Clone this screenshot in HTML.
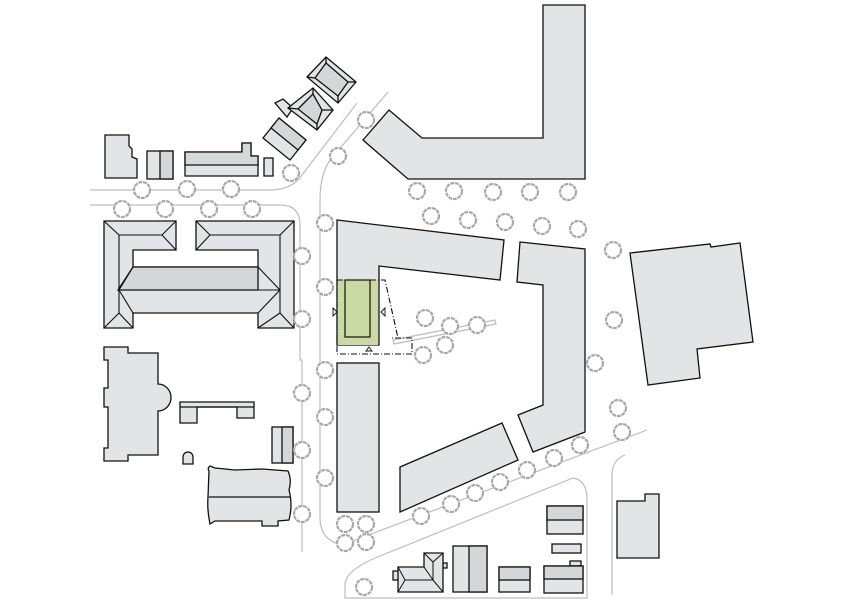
<!DOCTYPE html>
<html><head><meta charset="utf-8"><style>html,body{margin:0;padding:0;background:#fff}svg{display:block}</style></head>
<body>
<svg width="850" height="605" viewBox="0 0 850 605" xmlns="http://www.w3.org/2000/svg">
<g fill="none" stroke="#bdbdbd" stroke-width="1.2">
<path d="M90 190 H270 Q292 190 302 175 L357 103"/>
<path d="M90 205 H280 Q300 205 300 225 V360 H302 V552"/>
<path d="M388 92 L330 160 Q320 175 320 200 V518 Q320 540 342 545 L647 430"/>
<path d="M345 598 H587 V500 Q587 480 573 478 L380 556 Q345 570 345 585 Z"/>
<path d="M612 595 V475 Q612 460 625 455"/>
<path d="M393 340 L495 320 L496 324 L394 344 Z"/>
</g>
<g fill="#e2e4e6" stroke="#111" stroke-width="1.3">
<path d="M543 5 H585 V179 H408 L363 140 L389 110 L422 138 H543 Z"/>
<path d="M337 220 L504 240 L500 280 L379 266 V345 H337 Z"/>
<rect x="337" y="363" width="42" height="149"/>
<path d="M520 242 L585 249 V432 L533 452 L518 415 L543 405 V285 L517 282 Z"/>
<path d="M400 467 L502 423 L518 460 L400 512 Z"/>
<path d="M630 253 L710 244 L711 247 L740 243 L753 342 L697 349 L700 378 L648 385 Z"/>
<path d="M105 135 H129 V146 L132 149 V157 L137 159 V178 H105 Z"/>
<rect x="147" y="151" width="26" height="28"/>
<rect x="160" y="151" width="13" height="28" fill="#d4d6d8"/>
<path d="M185 152 H242 V143 H251 V156 H258 V176 H185 Z"/>
<path d="M185 152 H242 V143 H251 V156 H258 V165 H185 Z" fill="#d6d8da"/>
<rect x="264" y="158" width="9" height="18"/>
<path d="M263 138 L279 118 L306 140 L290 160 Z"/>
<path d="M271 128 L298 150 L306 140 L279 118 Z" fill="#d4d6d8"/>
<path d="M275 103 L283 99 L293 108 L287 117 Z"/>
<path d="M288 108 L313 88 L333 110 L317 130 Z"/>
<path d="M298 109 L313 94 L322 110 L317 124 Z" fill="#d4d6d8"/>
<path d="M288 108 L298 109 M313 88 L313 94 M333 110 L322 110 M317 130 L317 124" fill="none"/>
<path d="M307 77 L326 57 L356 82 L338 103 Z"/>
<path d="M315 78 L326 63 L348 82 L338 96 Z" fill="#d4d6d8"/>
<path d="M307 77 L315 78 M326 57 L326 63 M356 82 L348 82 M338 103 L338 96" fill="none"/>
<path d="M104 221 H176 V250 H133 V267 H258 V250 H196 V221 H294 V328 H258 V313 H133 V328 H104 Z"/>
<path d="M133 267 H258 V290 H118 Z" fill="#d4d6d8"/>
<path d="M119 235 V313 L133 328 M104 221 L119 235 M104 328 L119 313 M119 235 H162 L176 221 M162 235 L176 250 M119 290 L133 267 M119 290 L133 313 M119 290 H280 M280 235 V313 L294 328 M294 221 L280 235 M258 328 L280 313 M280 235 H210 L196 221 M210 235 L196 250 M280 290 L258 267 M280 290 L258 313" fill="none" stroke-width="1.1"/>
<path d="M104 347 H128 V353 H158 V384 A13 13.5 0 0 1 158 411 V455 H128 V461 H104 V448 H108 V407 H104 V388 H108 V360 H104 Z"/>
<path d="M180 402 H254 V418 H237 V407 H197 V423 H180 Z"/>
<path d="M180 407 H254" fill="none"/>
<path d="M183 464 V457 A5 5 0 0 1 193 457 V464 Z"/>
<rect x="272" y="427" width="21" height="36"/>
<rect x="282" y="427" width="11" height="36" fill="#d4d6d8"/>
<path d="M209 471 Q207 468 210 466 L215 468 L235 470 L262 469 L288 471 Q292 480 289 490 Q293 505 289 520 L278 521 V526 H262 V521 L215 521 L210 524 Q207 510 208 497 Z"/>
<path d="M209 497 H290" fill="none"/>
<rect x="547" y="506" width="36" height="28"/>
<rect x="547" y="506" width="36" height="14" fill="#d4d6d8"/>
<rect x="552" y="544" width="29" height="9"/>
<rect x="570" y="561" width="11" height="5"/>
<rect x="544" y="566" width="39" height="27"/>
<rect x="544" y="566" width="39" height="13" fill="#d4d6d8"/>
<rect x="499" y="567" width="31" height="25"/>
<rect x="499" y="567" width="31" height="13" fill="#d4d6d8"/>
<rect x="453" y="546" width="34" height="46"/>
<rect x="469" y="546" width="18" height="46" fill="#d4d6d8"/>
<rect x="393" y="571" width="6" height="9"/>
<rect x="443" y="563" width="4" height="5"/>
<path d="M398 567 H424 V553 H443 V592 H398 Z"/>
<path d="M398 567 L405 580 L398 592 M405 580 H433 L443 592 M424 567 L433 580 M424 553 L433 562 L443 553 M433 562 V580" fill="none" stroke-width="1"/>
<path d="M617 501 H645 V494 H659 V558 H617 Z"/>
</g>
<rect x="338" y="280" width="40" height="65" fill="#cbd9a5"/>
<rect x="345" y="280" width="25" height="57" fill="#cbd9a5" stroke="#111" stroke-width="1.2"/>
<path d="M337 280 H385 L398 338 M337 280 V354 H412 V338 H392" fill="none" stroke="#111" stroke-width="1.1" stroke-dasharray="6 2 1 2"/>
<g fill="#fff" stroke="#111" stroke-width="0.9">
<path d="M333 308 L337 312 L333 316 Z"/>
<path d="M385 308 L381 312 L385 316 Z"/>
<path d="M366 351 L369 347 L372 351 Z"/>
</g>
<g fill="#fff" stroke="#a8a8a8" stroke-width="2.2" stroke-dasharray="4 0.8">
<circle cx="142" cy="190" r="8"/><circle cx="187" cy="189" r="8"/><circle cx="231" cy="189" r="8"/>
<circle cx="291" cy="173" r="8"/><circle cx="338" cy="156" r="8"/><circle cx="366" cy="120" r="8"/>
<circle cx="122" cy="209" r="8"/><circle cx="165" cy="209" r="8"/><circle cx="209" cy="209" r="8"/><circle cx="252" cy="209" r="8"/>
<circle cx="325" cy="223" r="8"/><circle cx="302" cy="256" r="8"/><circle cx="325" cy="287" r="8"/><circle cx="302" cy="319" r="8"/>
<circle cx="325" cy="370" r="8"/><circle cx="302" cy="393" r="8"/><circle cx="325" cy="417" r="8"/><circle cx="302" cy="450" r="8"/>
<circle cx="325" cy="478" r="8"/><circle cx="302" cy="514" r="8"/>
<circle cx="345" cy="524" r="8"/><circle cx="366" cy="524" r="8"/><circle cx="345" cy="543" r="8"/><circle cx="366" cy="542" r="8"/>
<circle cx="364" cy="587" r="8"/>
<circle cx="417" cy="191" r="8"/><circle cx="454" cy="191" r="8"/><circle cx="493" cy="192" r="8"/><circle cx="530" cy="192" r="8"/><circle cx="568" cy="192" r="8"/>
<circle cx="431" cy="216" r="8"/><circle cx="468" cy="220" r="8"/><circle cx="505" cy="222" r="8"/><circle cx="542" cy="226" r="8"/><circle cx="578" cy="229" r="8"/>
<circle cx="613" cy="250" r="8"/><circle cx="614" cy="320" r="8"/><circle cx="595" cy="363" r="8"/><circle cx="618" cy="408" r="8"/><circle cx="622" cy="432" r="8"/>
<circle cx="425" cy="318" r="8"/><circle cx="450" cy="326" r="8"/><circle cx="477" cy="325" r="8"/><circle cx="445" cy="345" r="8"/><circle cx="423" cy="355" r="8"/>
<circle cx="421" cy="516" r="8"/><circle cx="451" cy="504" r="8"/><circle cx="475" cy="493" r="8"/><circle cx="500" cy="482" r="8"/>
<circle cx="527" cy="470" r="8"/><circle cx="554" cy="458" r="8"/><circle cx="580" cy="445" r="8"/>
</g>
</svg>
</body></html>
